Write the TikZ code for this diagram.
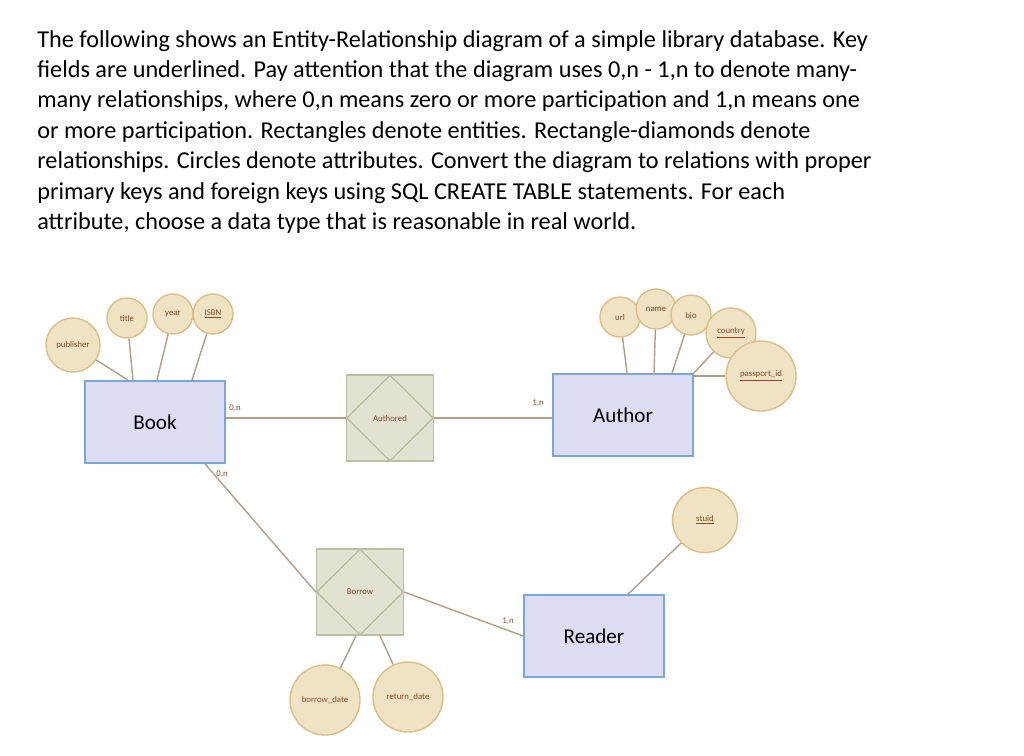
\documentclass[tikz,border=0pt]{standalone}
\usepackage{fontspec}
\setmainfont{Carlito}
\usetikzlibrary{positioning, shapes.geometric}
\definecolor{entfill}{HTML}{DCDDF2}
\definecolor{entdraw}{HTML}{7AA6DC}
\definecolor{relfill}{HTML}{E2E2D2}
\definecolor{reldraw}{HTML}{B8C0A0}
\definecolor{attfill}{HTML}{EFE3C4}
\definecolor{attdraw}{HTML}{DDBE86}
\definecolor{linkcol}{HTML}{B89C84}
\definecolor{labcol}{HTML}{8A4A2A}
\tikzset{
    entity_node/.style={rectangle, draw=entdraw, fill=entfill, line width=1pt, minimum width=2.8cm, minimum height=1.64cm, font=\large},
    rel_node/.style={rectangle, draw=reldraw, fill=relfill, line width=0.8pt, minimum width=1.74cm, minimum height=1.72cm, font=\tiny, text=labcol},
    rel_diamond/.style={diamond, draw=reldraw, line width=0.8pt, minimum width=1.74cm, minimum height=1.72cm, inner sep=0pt},
    att_node/.style={circle, draw=attdraw, fill=attfill, line width=0.8pt, inner sep=0pt, font=\tiny, text=labcol},
    link/.style={draw=linkcol, line width=0.8pt},
    card/.style={font=\tiny, text=labcol},
}
\begin{document}
\begin{tikzpicture}[x=0.02cm, y=-0.02cm]
    \useasboundingbox (0,0) rectangle (1024,755);
    % question text
    \node (question) [anchor=north west, align=left, font=\fontsize{13.8}{17.3}\selectfont, inner sep=0pt] at (37,30)
        {The following shows an Entity-Relationship diagram of a simple library database. Key\\
         fields are underlined. Pay attention that the diagram uses 0,n - 1,n to denote many-\\
         many relationships, where 0,n means zero or more participation and 1,n means one\\
         or more participation. Rectangles denote entities. Rectangle-diamonds denote\\
         relationships. Circles denote attributes. Convert the diagram to relations with proper\\
         primary keys and foreign keys using SQL CREATE TABLE statements. For each\\
         attribute, choose a data type that is reasonable in real world.};

    %%%%%%%%%%%%
    % ENTITIES %
    %%%%%%%%%%%%
    \node (book) [entity_node] at (155,422) {Book};
    \node (author) [entity_node] at (623,415) {Author};
    \node (reader) [entity_node] at (594,636) {Reader};

    %%%%%%%%%%%%%%%%%
    % RELATIONSHIPS %
    %%%%%%%%%%%%%%%%%
    \node (authored) [rel_node] at (390,418) {Authored};
    \node (authored_d) [rel_diamond] at (authored) {};
    \node (borrow) [rel_node] at (360,592) {Borrow};
    \node (borrow_d) [rel_diamond] at (borrow) {};

    %%%%%%%%%%%%%%
    % ATTRIBUTES %
    %%%%%%%%%%%%%%
    \node (publisher) [att_node, minimum size=1.08cm] at (73,345) {publisher};
    \node (title) [att_node, minimum size=0.8cm] at (127,318) {title};
    \node (year) [att_node, minimum size=0.8cm] at (173,314) {year};
    \node (isbn) [att_node, minimum size=0.8cm] at (213,314) {\underline{ISBN}};
    \node (url) [att_node, minimum size=0.8cm] at (620,317) {url};
    \node (name) [att_node, minimum size=0.8cm] at (656,309) {name};
    \node (bio) [att_node, minimum size=0.8cm] at (691,315) {bio};
    \node (country) [att_node, minimum size=1.0cm] at (731,333) {\underline{country}};
    \node (passport) [att_node, minimum size=1.4cm] at (761,376) {\underline{passport\_id}};
    \node (stuid) [att_node, minimum size=1.3cm] at (705,520) {\underline{stuid}};
    \node (borrow_date) [att_node, minimum size=1.4cm] at (325,700) {borrow\_date};
    \node (return_date) [att_node, minimum size=1.4cm] at (408,697) {return\_date};

    %%%%%%%%%%%
    % LINKS   %
    %%%%%%%%%%%
    \draw [link] (publisher) -- (book.north west -| 128,0);
    \draw [link] (title) -- (book.north -| 133,0);
    \draw [link] (year) -- (book.north -| 157,0);
    \draw [link] (isbn) -- (book.north -| 192,0);
    \draw [link] (url) -- (author.north -| 627,0);
    \draw [link] (name) -- (author.north -| 654,0);
    \draw [link] (bio) -- (author.north -| 672,0);
    \draw [link] (country) -- (author.north east);
    \draw [link] (passport) -- (author.east |- passport);
    \draw [link] (stuid) -- (reader.north -| 628,0);
    \draw [link] (borrow_date) -- (borrow.south -| 356,0);
    \draw [link] (return_date) -- (borrow.south -| 380,0);

    \draw [link] (book.east |- authored) -- (authored_d.west);
    \draw [link] (authored_d.east) -- (author.west |- authored);
    \draw [link] (book.south -| 205,0) -- (borrow_d.west);
    \draw [link] (borrow_d.east) -- (reader.west);

    \node (card_book_a) [card] at (235,408) {0,n};
    \node (card_author) [card] at (538,403) {1,n};
    \node (card_book_b) [card] at (222,474) {0,n};
    \node (card_reader) [card] at (508,621) {1,n};
\end{tikzpicture}
\end{document}
